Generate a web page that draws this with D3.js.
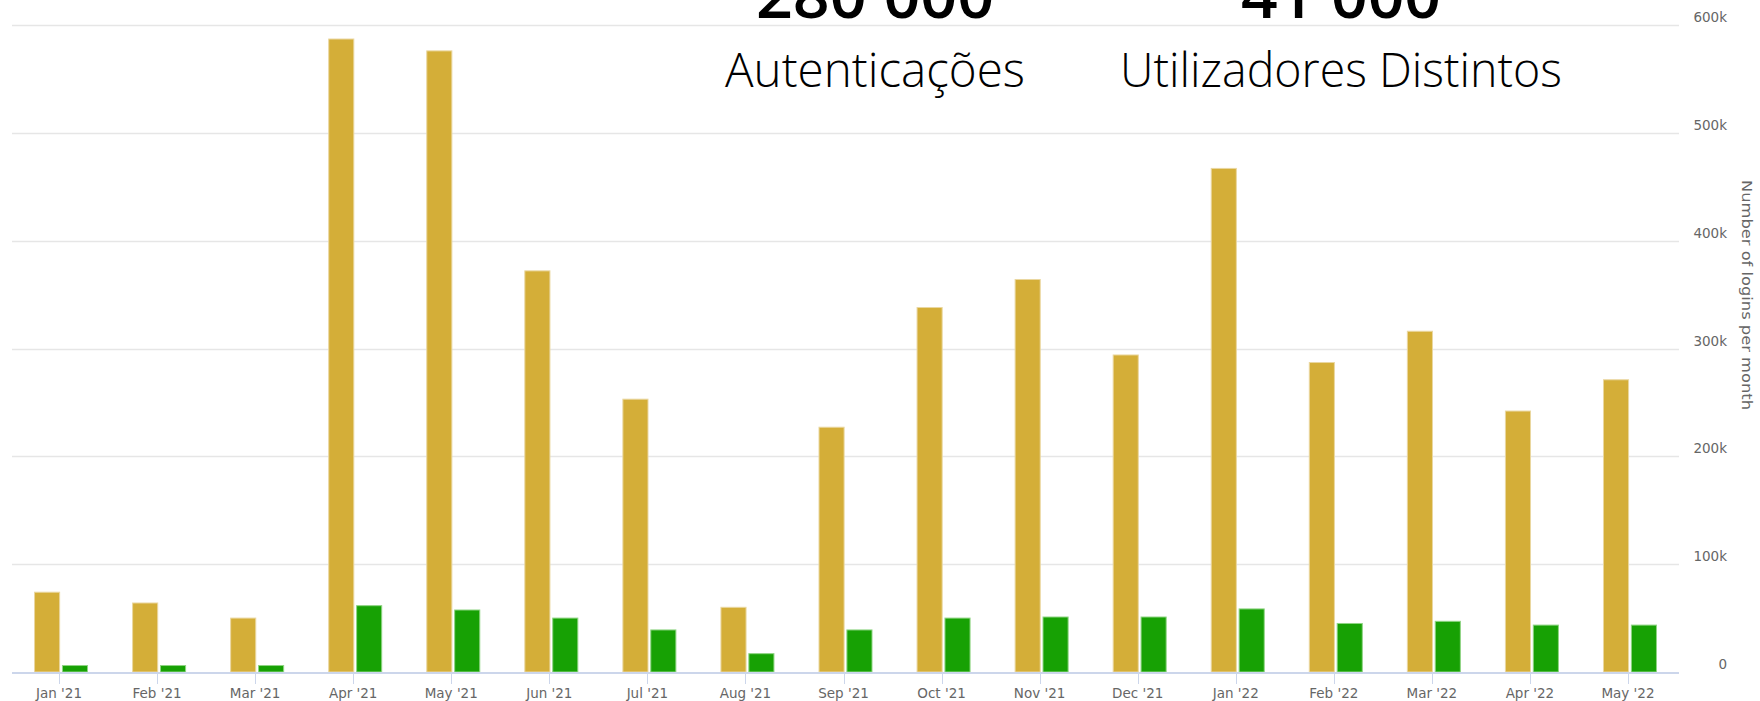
<!DOCTYPE html>
<html>
<head>
<meta charset="utf-8">
<script src="https://cdn.jsdelivr.net/npm/d3@7"></script>
<style>
  body { margin: 0; background: #fff; }
  svg { display: block; }
</style>
</head>
<body>
<div id="contentChart"></div>
<script>

// months on the x axis
var months = ["Jan '21", "Feb '21", "Mar '21", "Apr '21", "May '21", "Jun '21", "Jul '21", "Aug '21",
              "Sep '21", "Oct '21", "Nov '21", "Dec '21", "Jan '22", "Feb '22", "Mar '22", "Apr '22", "May '22"];

// logins per month (gold) and distinct users per month (green)
var logins = [74000, 64000, 50000, 587000, 576000, 372000, 253000, 60000, 227000,
              338000, 364000, 294000, 467000, 287000, 316000, 242000, 271000];
var users  = [6000, 6000, 6000, 61500, 57500, 50000, 39000, 17000, 39000,
              50000, 51000, 51000, 58500, 45000, 47000, 43500, 43500];

var seriesNames = ["logins", "users"];
var yTicks = [0, 100000, 200000, 300000, 400000, 500000, 600000];
var yTickLabels = ["0", "100k", "200k", "300k", "400k", "500k", "600k"];

// headline figures shown above the chart
var headlines = [
  { value: "280 000", label: "Autenticações" },
  { value: "41 000", label: "Utilizadores Distintos" }
];

class LoginChart {

    constructor(width, height, margin) {
        this.width = width;
        this.height = height;
        this.margin = margin;
        this.colors = { logins: "#d4ae38", users: "#17a104" };
        this.borders = { logins: "#ead7a0", users: "#8fd483" };
        this.svg = d3.select("#contentChart")
            .append("svg")
            .attr("width", width)
            .attr("height", height);
    }

    drawChart() {
        var m = this.margin;
        var svg = this.svg;

        var x0 = d3.scaleBand()
            .domain(months)
            .range([m.left, this.width - m.right])
            .padding(0);

        var groupW = 53;
        var x1 = d3.scaleBand()
            .domain(seriesNames)
            .range([0, groupW])
            .paddingInner(0.1);

        var y = d3.scaleLinear()
            .domain([0, 600000])
            .range([this.height - m.bottom, m.top]);

        // grid lines
        svg.append("g")
            .selectAll("line")
            .data(yTicks.slice(1))
            .join("line")
            .attr("x1", m.left)
            .attr("x2", this.width - m.right)
            .attr("y1", d => Math.round(y(d)) + 0.5)
            .attr("y2", d => Math.round(y(d)) + 0.5)
            .attr("stroke", "#e6e6e6")
            .attr("stroke-width", 1.5);

        // y labels on the right
        svg.append("g")
            .selectAll("text")
            .data(yTicks)
            .join("text")
            .attr("x", 1727)
            .attr("y", d => y(d) - 3)
            .attr("text-anchor", "end")
            .attr("font-family", "DejaVu Sans, Verdana, sans-serif")
            .attr("font-size", "13.5px")
            .attr("fill", "#666666")
            .text((d, i) => yTickLabels[i]);

        svg.append("text")
            .attr("transform", "translate(1742," + 295 + ") rotate(90)")
            .attr("text-anchor", "middle")
            .attr("font-family", "DejaVu Sans, Verdana, sans-serif")
            .attr("font-size", "13.5px")
            .attr("fill", "#666666")
            .attr("textLength", 230)
            .attr("lengthAdjust", "spacingAndGlyphs")
            .text("Number of logins per month");

        // bars
        var rows = months.map((mo, i) => ({ month: mo, logins: logins[i], users: users[i] }));
        var offset = (x0.bandwidth() - groupW) / 2;

        var groups = svg.append("g")
            .selectAll("g")
            .data(rows)
            .join("g")
            .attr("transform", d => "translate(" + (x0(d.month) + offset) + ",0)");

        var colors = this.colors, borders = this.borders;
        groups.selectAll("rect")
            .data(d => seriesNames.map(k => ({ key: k, value: d[k] })))
            .join("rect")
            .attr("x", d => x1(d.key))
            .attr("y", d => y(d.value))
            .attr("width", x1.bandwidth())
            .attr("height", d => y(0) - y(d.value))
            .attr("fill", d => colors[d.key])
            .attr("stroke", d => borders[d.key])
            .attr("stroke-width", 1);

        // x axis line, ticks and labels
        var base = y(0);
        svg.append("line")
            .attr("x1", m.left)
            .attr("x2", this.width - m.right)
            .attr("y1", base + 1)
            .attr("y2", base + 1)
            .attr("stroke", "#ccd6eb")
            .attr("stroke-width", 2);

        var xAxis = svg.append("g");
        xAxis.selectAll("line")
            .data(months)
            .join("line")
            .attr("x1", d => Math.round(x0(d) + x0.bandwidth() / 2) - 1.5)
            .attr("x2", d => Math.round(x0(d) + x0.bandwidth() / 2) - 1.5)
            .attr("y1", base)
            .attr("y2", base + 12)
            .attr("stroke", "#ccd6eb")
            .attr("stroke-width", 1);

        xAxis.selectAll("text")
            .data(months)
            .join("text")
            .attr("x", d => x0(d) + x0.bandwidth() / 2 - 2)
            .attr("y", 698)
            .attr("text-anchor", "middle")
            .attr("font-family", "DejaVu Sans, Verdana, sans-serif")
            .attr("font-size", "13.5px")
            .attr("fill", "#666666")
            .text(d => d);
    }

    drawHeadlines() {
        var centers = [875, 1341];
        var valueW = [238, 200];
        var labelW = [300, 442];

        var hl = this.svg.append("g")
            .selectAll("g")
            .data(headlines)
            .join("g");

        hl.append("text")
            .attr("x", (d, i) => centers[i])
            .attr("y", 18)
            .attr("text-anchor", "middle")
            .attr("font-family", "Open Sans, sans-serif")
            .attr("font-weight", 600)
            .attr("font-size", "64px")
            .attr("fill", "#000")
            .attr("textLength", (d, i) => valueW[i])
            .attr("lengthAdjust", "spacingAndGlyphs")
            .text(d => d.value);

        hl.append("text")
            .attr("x", (d, i) => centers[i])
            .attr("y", 87)
            .attr("text-anchor", "middle")
            .attr("font-family", "Open Sans, sans-serif")
            .attr("font-weight", 300)
            .attr("font-size", "47px")
            .attr("fill", "#000")
            .attr("textLength", (d, i) => labelW[i])
            .attr("lengthAdjust", "spacingAndGlyphs")
            .text(d => d.label);
    }
}

var chart = new LoginChart(1760, 701, { top: 25, right: 81, bottom: 29, left: 12 });
chart.drawChart();
chart.drawHeadlines();

</script>
</body>
</html>
